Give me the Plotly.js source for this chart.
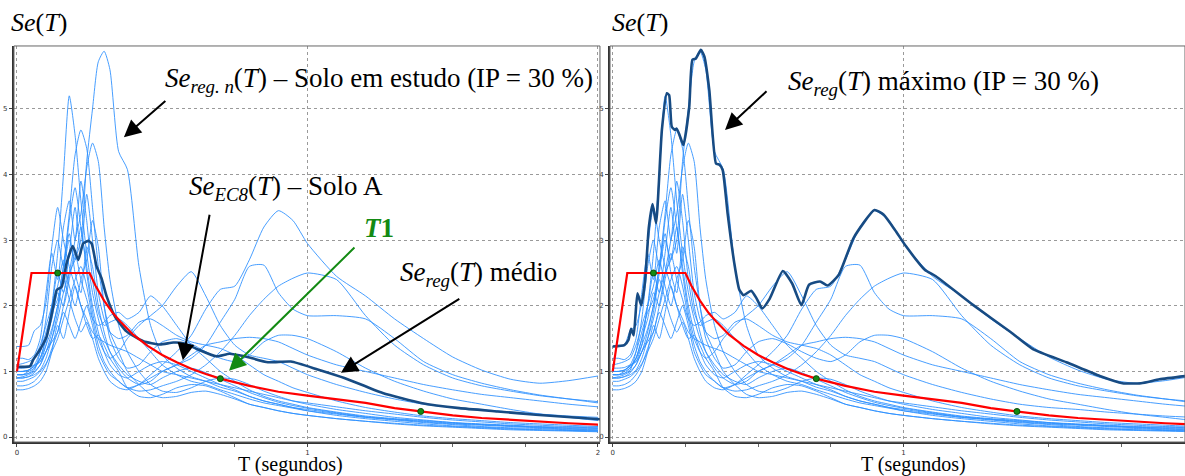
<!DOCTYPE html>
<html><head><meta charset="utf-8">
<script src="https://cdn.plot.ly/plotly-3.0.1.min.js"></script>
<style>html,body{margin:0;padding:0;background:#fff}#chart{width:1185px;height:476px}</style>
</head><body><div id="chart"></div>
<script>
// Period grid (s) for the individual regularised spectra
const periods = [0,0.02,0.04,0.06,0.08,0.10,0.12,0.14,0.16,0.18,0.20,0.22,0.24,0.26,0.28,0.30,0.32,0.35,0.38,0.42,0.46,0.50,0.55,0.60,0.65,0.70,0.75,0.80,0.85,0.90,0.95,1.00,1.10,1.20,1.30,1.40,1.50,1.60,1.70,1.80,1.90,2.00];

// Individual spectra Se_reg.n(T)
const se01 = [0.90,0.92,0.95,1.00,1.10,1.30,1.50,1.80,2.20,2.50, 2.70,3.00,4.20,5.00,5.72,5.88,5.60,4.35,4.08,2.60, 1.70,1.25,1.05,0.92,0.85,0.76,0.70,0.62,0.55,0.50, 0.45,0.42,0.36,0.30,0.26,0.22,0.19,0.16,0.14,0.13,0.11,0.10];
const se02 = [0.95,0.95,0.97,1.05,1.20,1.50,2.00,2.80,4.00,5.20, 4.60,3.60,2.80,2.20,1.80,1.50,1.30,1.10,0.95,0.85, 0.80,0.90,1.00,1.05,0.98,0.88,0.78,0.68,0.60,0.53, 0.48,0.44,0.37,0.31,0.27,0.23,0.20,0.18,0.16,0.14,0.12,0.11];
const se03 = [1.00,1.00,1.02,1.08,1.20,1.40,1.65,2.00,2.60,3.40, 4.30,4.68,4.40,3.50,2.60,2.00,1.60,1.30,1.00,0.80, 0.65,0.60,0.62,0.68,0.70,0.65,0.58,0.50,0.45,0.40, 0.36,0.33,0.28,0.24,0.21,0.18,0.16,0.14,0.12,0.11,0.10,0.09];
const se04 = [0.90,0.90,0.92,0.98,1.10,1.30,1.45,1.60,2.00,2.50, 3.00,3.40,4.10,4.48,4.20,3.20,2.40,1.70,1.30,1.00, 0.80,0.70,0.68,0.75,0.85,0.90,0.88,0.80,0.70,0.62, 0.55,0.50,0.42,0.36,0.30,0.26,0.22,0.19,0.17,0.15,0.13,0.12];
const se05 = [1.38,1.38,1.40,1.62,1.70,2.05,2.90,3.50,3.00,2.60, 2.30,2.00,1.80,1.60,1.50,1.45,1.40,1.35,1.30,1.20, 1.10,1.00,0.95,0.90,0.85,0.80,0.75,0.70,0.65,0.60, 0.55,0.52,0.46,0.40,0.35,0.30,0.26,0.23,0.20,0.18,0.16,0.15];
const se06 = [0.85,0.85,0.88,0.92,1.00,1.12,1.30,1.50,1.80,2.10, 2.40,2.60,2.30,1.80,1.40,1.15,1.00,0.85,0.75,0.80, 0.95,1.10,1.30,1.55,1.95,2.25,2.30,2.70,3.20,3.45, 3.30,2.95,2.45,2.15,1.80,1.50,1.22,1.02,0.88,0.82,0.86,0.93];
const se07 = [0.90,0.90,0.92,0.95,1.02,1.20,1.50,1.90,2.50,3.00, 2.70,3.20,2.50,1.90,1.50,1.30,1.20,1.30,1.50,1.70, 1.85,2.00,2.30,2.52,2.15,1.70,1.40,1.25,1.20,1.15, 1.05,0.95,0.80,0.68,0.58,0.50,0.45,0.42,0.38,0.35,0.32,0.30];
const se08 = [1.00,1.00,1.02,1.10,1.30,1.60,1.90,2.10,2.60,3.10, 2.50,2.20,2.90,2.60,2.00,1.60,1.30,1.05,0.90,0.80, 0.85,1.00,1.10,1.20,1.40,1.75,2.10,2.60,2.62,2.20, 1.95,1.85,1.85,1.80,1.50,1.15,0.95,0.82,0.72,0.64,0.58,0.52];
const se09 = [0.95,0.95,1.00,1.05,1.20,1.50,1.80,2.20,2.00,2.40, 2.80,2.40,2.10,1.80,1.70,1.75,1.85,1.90,1.80,1.90, 2.15,2.00,1.70,1.40,1.20,1.00,0.85,0.72,0.62,0.55, 0.50,0.45,0.38,0.32,0.28,0.25,0.22,0.20,0.18,0.16,0.15,0.14];
const se10 = [0.78,0.78,0.80,0.85,0.95,1.10,1.35,1.60,1.90,1.70, 1.50,1.75,2.00,1.70,1.30,1.10,0.95,0.85,0.75,0.70, 0.72,0.78,0.85,0.95,1.10,1.30,1.55,1.85,2.10,2.30, 2.42,2.50,2.40,1.85,1.40,1.10,0.90,0.78,0.70,0.63,0.58,0.54];
const se11 = [0.95,0.95,0.97,1.02,1.30,1.80,2.60,3.00,2.60,3.30, 3.80,3.20,2.60,2.00,1.60,1.30,1.10,0.95,0.90,1.00, 1.10,1.15,1.10,1.00,0.90,0.80,0.72,0.62,0.55,0.50, 0.45,0.40,0.33,0.28,0.24,0.20,0.17,0.15,0.13,0.11,0.10,0.09];
const se12 = [1.20,1.20,1.18,1.25,1.50,2.20,2.80,2.40,3.20,3.60, 3.00,3.90,3.30,2.40,1.90,1.70,1.75,1.80,1.70,1.50, 1.30,1.10,0.95,0.85,0.80,0.72,0.65,0.58,0.52,0.48, 0.44,0.40,0.35,0.30,0.27,0.24,0.21,0.19,0.17,0.15,0.14,0.13];
const se13 = [0.72,0.72,0.74,0.78,0.85,1.00,1.30,1.70,1.50,1.90, 2.30,2.00,1.70,1.50,1.55,1.40,1.20,1.00,0.75,0.62, 0.60,0.65,0.75,0.80,0.78,0.70,0.60,0.50,0.45,0.40, 0.36,0.33,0.28,0.24,0.20,0.17,0.15,0.13,0.11,0.10,0.09,0.08];
const se14 = [1.10,1.12,1.15,1.20,1.40,1.70,2.00,2.50,2.20,2.80, 3.50,2.80,3.70,3.00,2.20,1.80,1.60,1.50,1.55,1.75, 1.80,1.70,1.55,1.45,1.40,1.35,1.25,1.10,0.95,0.85, 0.75,0.68,0.55,0.45,0.38,0.32,0.28,0.25,0.22,0.20,0.18,0.16];
const se15 = [1.00,1.00,1.02,1.08,1.15,1.40,2.00,2.30,2.70,2.30, 2.00,2.40,2.70,3.30,2.90,2.00,1.50,1.20,1.05,1.10, 1.30,1.45,1.50,1.42,1.30,1.20,1.15,1.25,1.45,1.55, 1.55,1.50,1.30,1.05,0.85,0.70,0.58,0.50,0.42,0.35,0.30,0.25];
const se16 = [1.05,1.05,1.06,1.10,1.15,1.30,1.60,2.00,2.40,2.10, 1.80,1.60,1.75,1.50,1.20,1.00,0.85,0.75,0.72,0.80, 0.90,1.00,1.10,1.25,1.40,1.45,1.50,1.52,1.50,1.45, 1.35,1.25,1.10,1.00,0.90,0.80,0.72,0.65,0.60,0.55,0.50,0.46];
const individualSpectra = [se01,se02,se03,se04,se05,se06,se07,se08,se09,se10,se11,se12,se13,se14,se15,se16];

// Mean spectrum Se_reg(T) médio
const meanT  = [0,0.045,0.056,0.079,0.102,0.125,0.137,0.154,0.171,0.192,0.211,0.228,0.246,0.257,0.274,0.291,0.309,0.337,0.377,0.435,0.492,0.538,0.574,0.626,0.686,0.732,0.784,0.864,0.943,1.035,1.127,1.259,1.391,1.523,1.655,1.786,2.008];
const meanSe = [1.07,1.08,1.18,1.33,1.53,1.99,2.24,2.29,2.65,2.91,2.70,2.95,2.99,2.95,2.60,2.42,2.14,1.84,1.61,1.46,1.41,1.44,1.43,1.33,1.23,1.27,1.23,1.14,1.15,1.03,0.90,0.67,0.52,0.44,0.39,0.34,0.27];

// Maximum spectrum Se_reg(T) máximo
const maxT  = [0,0.04,0.054,0.063,0.072,0.085,0.098,0.111,0.124,0.137,0.149,0.169,0.186,0.194,0.203,0.214,0.22,0.23,0.243,0.263,0.274,0.286,0.303,0.315,0.332,0.355,0.367,0.378,0.395,0.418,0.435,0.45,0.476,0.495,0.514,0.54,0.585,0.617,0.649,0.675,0.713,0.739,0.777,0.829,0.9,0.931,0.97,1.008,1.073,1.111,1.24,1.368,1.445,1.56,1.675,1.753,1.817,1.88,1.97];
const maxSe = [1.38,1.40,1.48,1.65,1.55,2.19,2.01,2.37,3.19,3.55,3.26,4.68,5.24,5.21,4.73,4.68,4.70,4.60,4.45,5.03,5.75,5.77,5.90,5.80,5.29,4.17,4.15,4.07,3.41,2.65,2.25,2.16,2.23,2.11,1.96,2.11,2.53,2.34,2.01,2.32,2.37,2.31,2.47,3.04,3.46,3.39,3.16,2.91,2.55,2.45,2.01,1.60,1.34,1.14,0.93,0.82,0.82,0.88,0.93];

// EC8 spectrum, soil A
const ec8T  = [0,0.05,0.25,0.27,0.30,0.33,0.36,0.40,0.45,0.50,0.55,0.60,0.65,0.70,0.80,0.90,1.00,1.10,1.20,1.30,1.40,1.50,1.60,1.70,1.80,1.90,2.00];
const ec8Se = [1.00,2.50,2.50,2.31,2.08,1.89,1.74,1.56,1.39,1.25,1.14,1.04,0.96,0.89,0.78,0.69,0.63,0.57,0.52,0.44,0.38,0.33,0.29,0.26,0.23,0.21,0.19];

// Marked periods (green points)
const markT  = [0.14, 0.70, 1.39];
const markSe = [2.50, 0.89, 0.39];

const W = 1185, H = 476;
const px = v => v / W, py = v => 1 - v / H;
const thinColor = 'rgba(45,145,255,0.88)';
const darkColor = '#174b83';

function panelTraces(xa, ya, bigT, bigSe) {
  const tr = [];
  individualSpectra.forEach(s => tr.push({
    x: periods, y: s, xaxis: xa, yaxis: ya, mode: 'lines', hoverinfo: 'skip',
    line: {color: thinColor, width: 1, shape: 'spline', smoothing: 0.6}
  }));
  tr.push({x: bigT, y: bigSe, xaxis: xa, yaxis: ya, mode: 'lines',
    line: {color: darkColor, width: 2.6, shape: 'spline', smoothing: 0.5}});
  tr.push({x: ec8T, y: ec8Se, xaxis: xa, yaxis: ya, mode: 'lines',
    line: {color: '#ff0000', width: 2.2}});
  tr.push({x: markT, y: markSe, xaxis: xa, yaxis: ya, mode: 'markers',
    marker: {color: '#138a13', size: 6, line: {color: '#0b4d0b', width: 1}}});
  return tr;
}
const data = panelTraces('x', 'y', meanT, meanSe).concat(panelTraces('x2', 'y2', maxT, maxSe));

const xBase = {
  tickvals: [0, 1, 2], ticks: 'outside', ticklen: 3, tickcolor: '#444',
  tickfont: {family: 'DejaVu Sans', size: 7, color: '#333'},
  minor: {dtick: 0.25, ticks: 'outside', ticklen: 3, tickcolor: '#666', showgrid: false},
  showgrid: true, gridcolor: '#9a9a9a', griddash: 'dot', gridwidth: 1,
  showline: true, linecolor: '#333', linewidth: 2, zeroline: false, fixedrange: true
};
const yBase = {
  range: [-0.076, 5.96], tickvals: [0, 1, 2, 3, 4, 5], ticks: 'outside', ticklen: 3, tickcolor: '#444',
  tickfont: {family: 'DejaVu Sans', size: 7, color: '#333'},
  showgrid: true, gridcolor: '#9a9a9a', griddash: 'dot', gridwidth: 1,
  showline: true, linecolor: '#333', linewidth: 2, zeroline: false, fixedrange: true,
  domain: [0.0714, 0.9034]
};

const serif = 'Liberation Serif, Times New Roman, serif';
function txt(x, y, text, opts) {
  return Object.assign({xref: 'paper', yref: 'paper', x: px(x), y: py(y), text: text,
    showarrow: false, xanchor: 'left', yanchor: 'middle', borderpad: 0,
    font: {family: serif, size: 27, color: '#000'}}, opts || {});
}
function arrow(xr, yr, hx, hy, tx, ty, color) {
  return {xref: xr, yref: yr, axref: xr, ayref: yr, x: hx, y: hy, ax: tx, ay: ty, text: '',
    showarrow: true, arrowhead: 2, arrowsize: 1.7, arrowwidth: 2, arrowcolor: color || '#000', standoff: 0};
}

const annotations = [
  txt(10, 22, '<i>Se</i>(<i>T</i>)', {font: {family: serif, size: 26, color: '#000'}}),
  txt(611, 22, '<i>Se</i>(<i>T</i>)', {font: {family: serif, size: 26, color: '#000'}}),
  txt(290, 464, 'T (segundos)', {xanchor: 'center', font: {family: serif, size: 20, color: '#000'}}),
  txt(913, 464, 'T (segundos)', {xanchor: 'center', font: {family: serif, size: 20, color: '#000'}}),
  txt(164, 80, '<i>Se<sub>reg. n</sub></i>(<i>T</i>) – Solo em estudo (IP = 30 %)'),
  txt(188, 188, '<i>Se<sub>EC8</sub></i>(<i>T</i>) – Solo A'),
  txt(379, 228, '<b><i>T</i>1</b>', {xanchor: 'center', font: {family: serif, size: 27, color: '#138a13'}}),
  txt(399, 274, '<i>Se<sub>reg</sub></i>(<i>T</i>) médio'),
  txt(787, 83, '<i>Se<sub>reg</sub></i>(<i>T</i>) máximo (IP = 30 %)'),
  arrow('x', 'y', 0.368, 4.57, 0.516, 5.14),
  arrow('x', 'y', 0.571, 1.17, 0.664, 3.41),
  arrow('x', 'y', 0.730, 1.01, 1.167, 2.91, '#138a13'),
  arrow('x', 'y', 1.115, 0.98, 1.528, 2.12),
  arrow('x2', 'y2', 0.386, 4.68, 0.534, 5.29)
];

const layout = {
  width: W, height: H, margin: {l: 0, r: 0, t: 0, b: 0},
  paper_bgcolor: '#fff', plot_bgcolor: '#fff', showlegend: false,
  xaxis: Object.assign({}, xBase, {domain: [0.0118, 0.5063], range: [-0.0103, 2.007], anchor: 'y'}),
  yaxis: Object.assign({}, yBase, {anchor: 'x'}),
  xaxis2: Object.assign({}, xBase, {domain: [0.5148, 1.0], range: [-0.0093, 1.968], anchor: 'y2'}),
  yaxis2: Object.assign({}, yBase, {anchor: 'x2'}),
  shapes: [
    {type: 'rect', xref: 'x domain', yref: 'y domain', x0: 0, x1: 1, y0: 0, y1: 1, line: {color: '#666', width: 1}, layer: 'above'},
    {type: 'rect', xref: 'x2 domain', yref: 'y2 domain', x0: 0, x1: 1, y0: 0, y1: 1, line: {color: '#666', width: 1}, layer: 'above'}
  ],
  annotations: annotations
};

Plotly.newPlot('chart', data, layout, {staticPlot: true, displayModeBar: false});
</script></body></html>
